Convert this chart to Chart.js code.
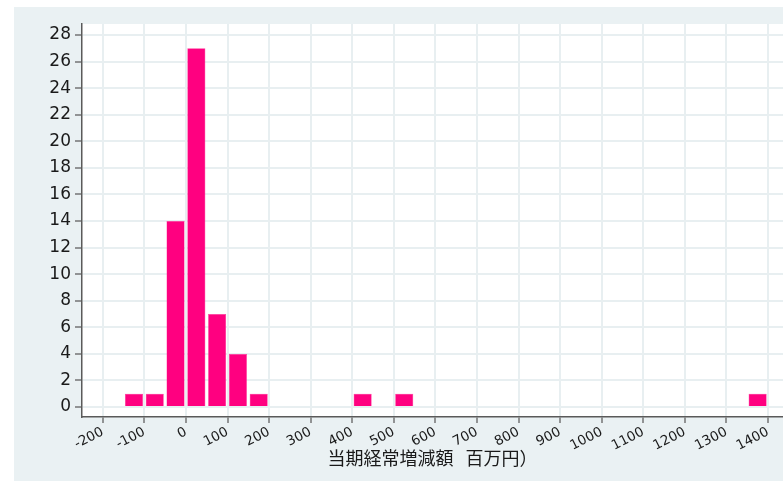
<!DOCTYPE html>
<html>
<head>
<meta charset="utf-8">
<script src="https://cdn.jsdelivr.net/npm/chart.js@4/dist/chart.umd.min.js"></script>
<style>
  html, body { margin: 0; padding: 0; background: #ffffff; }
  #wrap { width: 783px; height: 481px; position: relative; }
</style>
</head>
<body>
<div id="wrap"><canvas id="c" width="783" height="481"></canvas></div>
<script>
// Histogram of the change in current profit (million yen), bins 50 wide
const binStarts = [-150, -100, -50, 0, 50, 100, 150, 400, 500, 1350];
const counts    = [1, 1, 14, 27, 7, 4, 1, 1, 1, 1];
const binWidth  = 50;
const xTicks = [-200, -100, 0, 100, 200, 300, 400, 500, 600, 700, 800, 900, 1000, 1100, 1200, 1300, 1400];
const yTicks = [0, 2, 4, 6, 8, 10, 12, 14, 16, 18, 20, 22, 24, 26, 28];
const xRange = [-250, 1436];
const yRange = [-0.75, 28.83];
const xTitle = '当期経常増減額   百万円）';

const points = binStarts.map((s, i) => ({ x: s + binWidth / 2, y: counts[i] }));

const panelBg = {
  id: 'panelBg',
  beforeDraw(chart) {
    const ctx = chart.ctx;
    const a = chart.chartArea;
    ctx.save();
    ctx.fillStyle = '#eaf1f3';
    ctx.fillRect(14, 7, chart.width - 14, chart.height - 7);
    ctx.fillStyle = '#ffffff';
    ctx.fillRect(a.left, a.top, a.right - a.left, a.bottom - a.top);
    ctx.restore();
  }
};

new Chart(document.getElementById('c'), {
  type: 'bar',
  data: {
    datasets: [{
      data: points,
      backgroundColor: '#ff0080',
      borderColor: '#ff2a93',
      borderWidth: 0.5,
      barPercentage: 0.87,
      categoryPercentage: 1.0
    }]
  },
  options: {
    responsive: false,
    animation: false,
    layout: { padding: { left: 14, top: 24, right: 0, bottom: 0 } },
    plugins: { legend: { display: false }, tooltip: { enabled: false } },
    scales: {
      x: {
        type: 'linear',
        offset: false,
        min: xRange[0],
        max: xRange[1],
        afterBuildTicks(scale) {
          scale.ticks = xTicks.map(v => ({ value: v }));
          scale.min = xRange[0];
          scale.max = xRange[1];
        },
        afterFit(scale) { scale.height = 64; scale.paddingLeft = 0; scale.paddingRight = 0; },
        ticks: {
          autoSkip: false,
          minRotation: 27,
          maxRotation: 27,
          padding: 1,
          color: '#1a1a1a',
          font: { family: 'DejaVu Sans', size: 13.5 },
          callback: v => String(v)
        },
        grid: { offset: false, color: '#e8eff1', lineWidth: 2, tickColor: '#555555', tickLength: 6, tickWidth: 1.2 },
        border: { color: '#5a5a5a', width: 1.5 },
        title: {
          display: true,
          text: xTitle,
          color: '#1a1a1a',
          font: { family: 'Noto Sans CJK JP', size: 18 },
          padding: { top: 2, bottom: 12 }
        }
      },
      y: {
        type: 'linear',
        min: yRange[0],
        max: yRange[1],
        afterBuildTicks(scale) {
          scale.ticks = yTicks.map(v => ({ value: v }));
          scale.min = yRange[0];
          scale.max = yRange[1];
        },
        afterFit(scale) { scale.width = 68; },
        ticks: {
          padding: 4,
          color: '#1a1a1a',
          font: { family: 'DejaVu Sans', size: 17 },
          callback: v => String(v)
        },
        grid: { color: '#e8eff1', lineWidth: 2, tickColor: '#555555', tickLength: 7, tickWidth: 1.2 },
        border: { color: '#5a5a5a', width: 1.5 }
      }
    }
  },
  plugins: [panelBg]
});
</script>
</body>
</html>
